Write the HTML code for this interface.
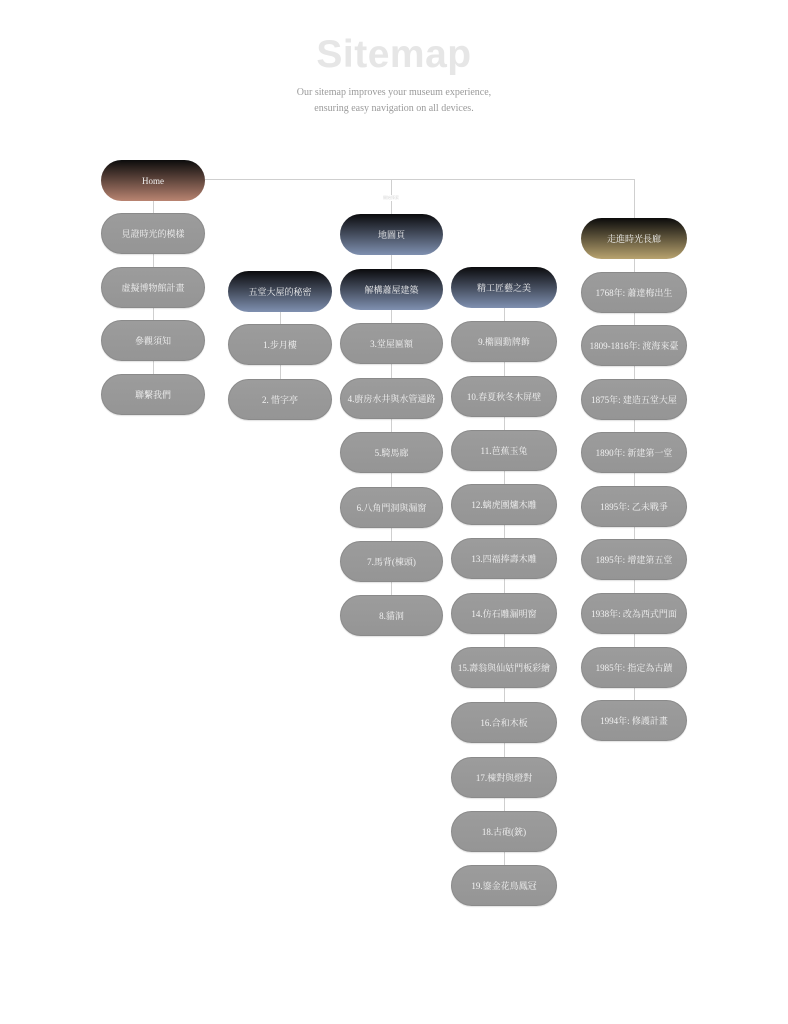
<!DOCTYPE html>
<html>
<head>
<meta charset="utf-8">
<style>
  html,body{margin:0;padding:0;background:#fff;}
  body{width:788px;height:1024px;position:relative;overflow:hidden;}
  .title{position:absolute;left:0;width:788px;top:30px;text-align:center;font-family:"Liberation Sans","DejaVu Sans",sans-serif;font-weight:bold;font-size:39px;color:#e6e6e6;letter-spacing:0.5px;line-height:50px;}
  .sub{position:absolute;left:0;width:788px;top:85px;text-align:center;font-family:"Liberation Serif",serif;font-size:10px;line-height:16px;color:#9a9a9a;}
  .ln{position:absolute;background:#cfcfcf;}
  .n{position:absolute;height:41px;border-radius:21px;box-sizing:border-box;display:flex;align-items:center;justify-content:center;font-family:"Liberation Serif","Noto Serif CJK SC","Noto Sans CJK TC",serif;font-size:9px;color:#f2f2f2;white-space:nowrap;}
  .g{background:linear-gradient(#9c9c9c,#959595);border:1px solid #8a8a8a;box-shadow:0 1px 1px rgba(0,0,0,0.12);}
  .home{background:linear-gradient(#0c0c0c,#b98471);}
  .blue{background:linear-gradient(#0b0b0d,#7f90b0);}
  .gold{background:linear-gradient(#0b0b0b,#b8a36f);}
  .c1{left:101px;width:104px;}
  .c2{left:228px;width:104px;}
  .c3{left:340px;width:103px;}
  .c4{left:451px;width:106px;}
  .c5{left:581px;width:106px;}
  .tiny{position:absolute;left:380px;top:195px;width:22px;text-align:center;font-family:"Noto Sans CJK TC",sans-serif;font-size:4px;line-height:6px;color:#d8d8d8;background:#fff;}
</style>
</head>
<body>
<div class="title">Sitemap</div>
<div class="sub">Our sitemap improves your museum experience,<br>ensuring easy navigation on all devices.</div>

<!-- connectors -->
<div class="ln" style="left:205px;top:179px;width:430px;height:1px;"></div>
<div class="ln" style="left:153px;top:200px;width:1px;height:175px;"></div>
<div class="ln" style="left:280px;top:311px;width:1px;height:70px;"></div>
<div class="ln" style="left:391px;top:179px;width:1px;height:418px;"></div>
<div class="ln" style="left:504px;top:307px;width:1px;height:560px;"></div>
<div class="ln" style="left:634px;top:179px;width:1px;height:523px;"></div>
<div class="tiny">開始探索</div>

<!-- column 1 -->
<div class="n home c1" style="top:160px;">Home</div>
<div class="n g c1" style="top:213px;">見證時光的模樣</div>
<div class="n g c1" style="top:267px;">虛擬博物館計畫</div>
<div class="n g c1" style="top:320px;">參觀須知</div>
<div class="n g c1" style="top:374px;">聯繫我們</div>

<!-- column 2 -->
<div class="n blue c2" style="top:271px;">五堂大屋的秘密</div>
<div class="n g c2" style="top:324px;">1.步月樓</div>
<div class="n g c2" style="top:379px;">2. 惜字亭</div>

<!-- column 3 -->
<div class="n blue c3" style="top:214px;">地圖頁</div>
<div class="n blue c3" style="top:269px;">解構蕭屋建築</div>
<div class="n g c3" style="top:323px;">3.堂屋匾額</div>
<div class="n g c3" style="top:378px;">4.廚房水井與水管通路</div>
<div class="n g c3" style="top:432px;">5.騎馬廊</div>
<div class="n g c3" style="top:487px;">6.八角門洞與漏窗</div>
<div class="n g c3" style="top:541px;">7.馬背(棟頭)</div>
<div class="n g c3" style="top:595px;">8.貓洞</div>

<!-- column 4 -->
<div class="n blue c4" style="top:267px;">精工匠藝之美</div>
<div class="n g c4" style="top:321px;">9.橢圓勳牌飾</div>
<div class="n g c4" style="top:376px;">10.春夏秋冬木屏壁</div>
<div class="n g c4" style="top:430px;">11.芭蕉玉兔</div>
<div class="n g c4" style="top:484px;">12.螭虎團爐木雕</div>
<div class="n g c4" style="top:538px;">13.四福捧壽木雕</div>
<div class="n g c4" style="top:593px;">14.仿石雕漏明窗</div>
<div class="n g c4" style="top:647px;">15.壽翁與仙姑門板彩繪</div>
<div class="n g c4" style="top:702px;">16.合和木板</div>
<div class="n g c4" style="top:757px;">17.棟對與燈對</div>
<div class="n g c4" style="top:811px;">18.古砲(銃)</div>
<div class="n g c4" style="top:865px;">19.鎏金花鳥鳳冠</div>

<!-- column 5 -->
<div class="n gold c5" style="top:218px;">走進時光長廊</div>
<div class="n g c5" style="top:272px;">1768年: 蕭達梅出生</div>
<div class="n g c5" style="top:325px;">1809-1816年: 渡海來臺</div>
<div class="n g c5" style="top:379px;">1875年: 建造五堂大屋</div>
<div class="n g c5" style="top:432px;">1890年: 新建第一堂</div>
<div class="n g c5" style="top:486px;">1895年: 乙未戰爭</div>
<div class="n g c5" style="top:539px;">1895年: 增建第五堂</div>
<div class="n g c5" style="top:593px;">1938年: 改為西式門面</div>
<div class="n g c5" style="top:647px;">1985年: 指定為古蹟</div>
<div class="n g c5" style="top:700px;">1994年: 修護計畫</div>
</body>
</html>
